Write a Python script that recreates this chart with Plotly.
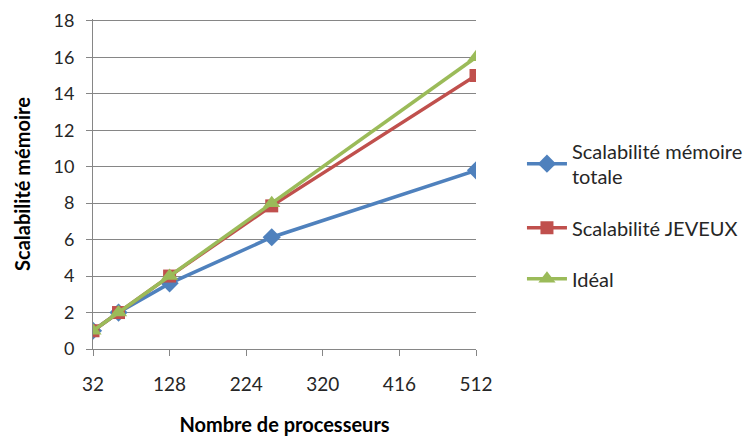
import plotly.graph_objects as go

procs = [32, 64, 128, 256, 512]
scal_memoire = [1, 2, 3.6, 6.13, 9.8]
scal_jeveux = [1, 2, 4, 7.85, 15]
ideal = [1, 2, 4, 8, 16]
x_ticks = [32, 128, 224, 320, 416, 512]
y_ticks = [0, 2, 4, 6, 8, 10, 12, 14, 16, 18]

FONT = "Lato"
fig = go.Figure()
fig.add_trace(go.Scatter(x=procs, y=scal_memoire, mode="lines+markers",
                         name="Scalabilité mémoire<br>totale", legendgroup="a",
                         line=dict(color="#4F81BD", width=3.5),
                         marker=dict(symbol="diamond", size=14, color="#4F81BD")))
fig.add_trace(go.Scatter(x=procs, y=scal_jeveux, mode="lines+markers",
                         name="Scalabilité JEVEUX", legendgroup="b",
                         line=dict(color="#C0504D", width=3.5),
                         marker=dict(symbol="square", size=13, color="#C0504D")))
fig.add_trace(go.Scatter(x=procs, y=ideal, mode="lines+markers",
                         name="Idéal", legendgroup="c",
                         line=dict(color="#9BBB59", width=3.5),
                         marker=dict(symbol="triangle-up", size=15, color="#9BBB59")))

fig.update_layout(
    width=754, height=438,
    margin=dict(l=85, r=286, t=11, b=97, autoexpand=False),
    plot_bgcolor="white", paper_bgcolor="white",
    font=dict(family=FONT, color="#262626"),
    legend=dict(x=1.12, y=0.66, xanchor="left", yanchor="top",
                font=dict(size=20, family=FONT, color="#262626"),
                tracegroupgap=22, itemwidth=40),
    xaxis=dict(range=[32, 512], tickvals=x_ticks, ticktext=[str(v) for v in x_ticks],
               showgrid=False, showline=True, linecolor="#868686", linewidth=1,
               ticks="outside", ticklen=6, tickcolor="#868686",
               tickfont=dict(size=19, family=FONT, color="#262626"),
               ticklabelstandoff=12, zeroline=False,
               title=dict(text="<b>Nombre de processeurs</b>", font=dict(size=20, family=FONT, color="#000"),
                          standoff=24)),
    yaxis=dict(range=[0, 18.1], tickvals=y_ticks, ticktext=[str(v) for v in y_ticks],
               showgrid=True, gridcolor="#868686", gridwidth=1,
               showline=True, linecolor="#868686", linewidth=1,
               ticks="outside", ticklen=6, tickcolor="#868686",
               tickfont=dict(size=18, family=FONT, color="#262626"),
               ticklabeloverflow="allow",
               ticklabelstandoff=8, zeroline=False,
               title=dict(text="<b>Scalabilité mémoire</b>", font=dict(size=20, family=FONT, color="#000"),
                          standoff=17)),
)
fig.write_html("out.html")
